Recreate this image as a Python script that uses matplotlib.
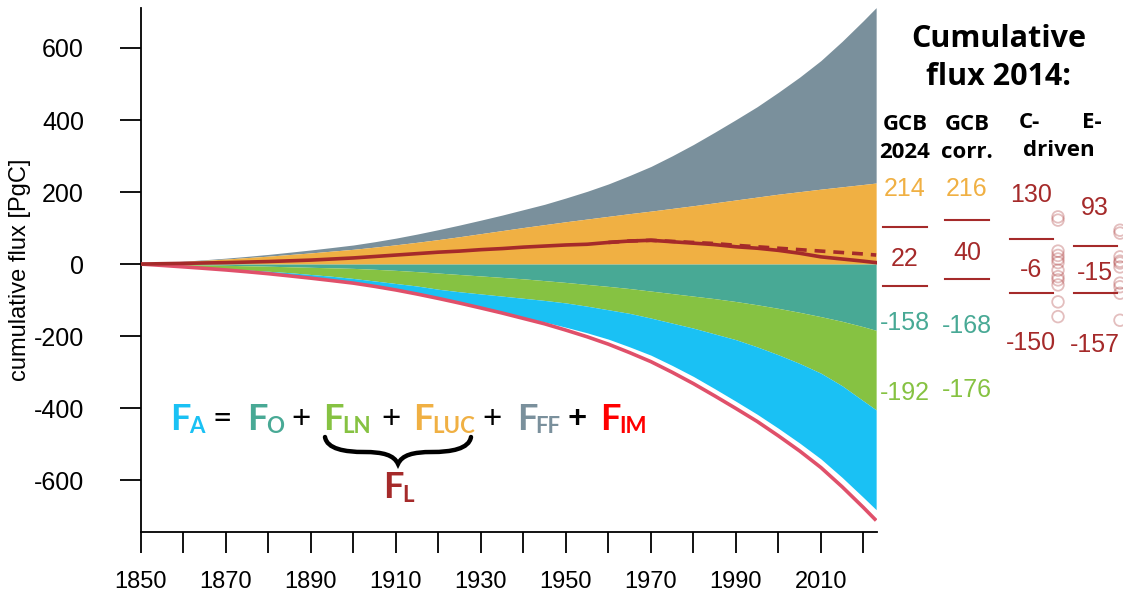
import numpy as np
import matplotlib
matplotlib.use('Agg')
import matplotlib.pyplot as plt
import matplotlib.transforms as mtransforms
from matplotlib.path import Path
from matplotlib.patches import PathPatch

plt.rcParams['axes.unicode_minus'] = False

# ── data (cumulative fluxes since 1850, PgC) ────────────────────────────────
years = [1850, 1855, 1860, 1865, 1870, 1875, 1880, 1885, 1890, 1895,
         1900, 1905, 1910, 1915, 1920, 1925, 1930, 1935, 1940, 1945,
         1950, 1955, 1960, 1965, 1970, 1975, 1980, 1985, 1990, 1995,
         2000, 2005, 2010, 2015, 2020, 2023]

cum_ff = [0, 0.3, 0.8, 1.5, 2.4, 3.4, 4.8, 6.4, 8.2, 10.0,
          12.0, 15.0, 18.5, 22.8, 27.5, 32.4, 37.5, 43.0, 49.5, 56.5,
          66, 77, 90, 106, 124, 146, 170, 196, 223, 251,
          283, 318, 357, 404, 455, 487]

cum_luc = [0, 3.5, 7, 10.5, 14, 18, 22, 26.5, 31, 36,
           41, 47, 53.5, 60.5, 68, 76, 84.5, 93, 101.5, 109.5,
           117.5, 125, 132.5, 140, 147, 154.5, 162, 170, 178, 186,
           194, 201, 208, 214.5, 221, 225]

cum_ocean = [0, -0.7, -1.5, -2.5, -3.5, -4.7, -6, -7.5, -9, -10.5,
             -12, -14.5, -17.5, -21, -25, -29, -33, -37, -41, -46,
             -51, -56.5, -62, -68, -75, -82, -89, -96, -104, -113,
             -123, -134, -146, -159, -174, -184]

cum_land = [0, -2.3, -4.5, -7, -9.5, -11.8, -14, -16.5, -20, -23.5,
            -28, -32.5, -36.5, -40, -45, -48, -50, -52, -54, -55,
            -57, -60.5, -65, -69, -75, -82, -89, -98, -106, -117,
            -129, -142, -157, -179, -206, -221]

cum_atm = [0, -0.8, -1.8, -2.5, -3.4, -4.9, -6.8, -8.9, -10.2, -12,
           -13, -15, -18, -22.3, -25.5, -31.4, -39, -47, -53, -60,
           -67.5, -74, -81.5, -93, -103, -117.5, -134, -152, -171, -187,
           -204, -221, -238, -254.5, -268, -277]

# land flux F_L = F_LN + F_LUC (GCB 2024, solid) and corrected (dashed)
fl_gcb = [0, 1, 2, 3, 4, 5.5, 7, 9, 11, 14,
          17, 21, 25, 29, 33, 36, 40, 43, 47, 50,
          53, 55, 60, 64, 66, 62, 58, 54, 48, 44,
          38, 30, 20, 14, 8, 4]
years_corr = [1960, 1965, 1970, 1975, 1980, 1985, 1990, 1995, 2000, 2005,
              2010, 2015, 2020, 2023]
fl_corr = [60, 64, 66, 63, 60, 57, 52, 48, 44, 40, 36, 32, 28, 25]

# model F_L values in 2014 (PgC)
models_cdriven = [131, 122, 36, 24, 14, 4, -17, -35, -44, -58, -105, -146]
models_edriven = [94, 86, 20, 8, 3, -8, -53, -63, -81, -156]

# table on the right
table_cols = ['GCB\n2024', 'GCB\ncorr.']
table_luc = [214, 216]
table_fl = [22, 40]
table_ocean = [-158, -168]
table_land = [-192, -176]
esm_top = [130, 93]
esm_fl = [-6, -15]
esm_bottom = [-150, -157]

# ── colours ──────────────────────────────────────────────────────────────────
C_FF = '#7A909C'
C_LUC = '#F0B043'
C_OCEAN = '#48A995'
C_LAND = '#86C242'
C_ATM = '#1AC1F4'
C_SRC = '#E0506A'
C_FL = '#A52A2A'
C_IM = '#FF0000'

W, H = 1123, 595
fig = plt.figure(figsize=(W / 100, H / 100), dpi=100)
ax = fig.add_axes([141 / W, 1 - 532 / H, (877 - 141) / W, (532 - 8) / H])

yr = np.array(years, float)
ff = np.array(cum_ff)
luc = np.array(cum_luc)
oce = np.array(cum_ocean)
lnd = np.array(cum_land)
atm = np.array(cum_atm)

ax.fill_between(yr, luc, luc + ff, color=C_FF, lw=0, zorder=1)
ax.fill_between(yr, 0, luc, color=C_LUC, lw=0, zorder=1)
ax.fill_between(yr, 0, oce, color=C_OCEAN, lw=0, zorder=1)
ax.fill_between(yr, oce, oce + lnd, color=C_LAND, lw=0, zorder=1)
ax.fill_between(yr, oce + lnd, oce + lnd + atm, color=C_ATM, lw=0, zorder=1)

ax.plot(yr, -(ff + luc), color=C_SRC, lw=2.6, zorder=3,
        solid_capstyle='butt')
ax.plot(years, fl_gcb, color=C_FL, lw=2.6, zorder=4)
ax.plot(years_corr, fl_corr, color=C_FL, lw=2.6, ls=(0, (3, 2.2)), zorder=4)

ax.set_xlim(1850, 2023.2)
ax.set_ylim(-744, 711)
for s in ('top', 'right'):
    ax.spines[s].set_visible(False)
for s in ('left', 'bottom'):
    ax.spines[s].set_linewidth(1.3)

xt = list(range(1850, 2021, 10))
ax.set_xticks(xt)
ax.set_xticklabels([str(t) if (t - 1850) % 20 == 0 else '' for t in xt])
ax.set_yticks(range(-600, 601, 200))
ax.tick_params(direction='out', length=15, width=1.3, labelsize=18,
               labelfontfamily='Liberation Sans')
ax.tick_params(axis='x', pad=13, labelsize=17)
ax.tick_params(axis='y', pad=26)
ax.set_ylabel('cumulative flux [PgC]', fontsize=17, family='Liberation Sans',
              labelpad=2)

# model circles on the main y scale, outside the axes
trans = mtransforms.blended_transform_factory(fig.transFigure, ax.transData)
ax.scatter([1058 / W] * len(models_cdriven), models_cdriven, s=70,
           facecolors='none', edgecolors=C_FL, alpha=0.3, lw=1.3,
           transform=trans, clip_on=False, zorder=5)
ax.scatter([1120 / W] * len(models_edriven), models_edriven, s=70,
           facecolors='none', edgecolors=C_FL, alpha=0.3, lw=1.3,
           transform=trans, clip_on=False, zorder=5)


def ftext(px, py, s, **kw):
    return fig.text(px / W, 1 - py / H, s, **kw)


def hline(x0, x1, py, color=C_FL, lw=1.5):
    fig.add_artist(plt.Line2D([x0 / W, x1 / W], [1 - py / H, 1 - py / H],
                              color=color, lw=lw, transform=fig.transFigure))


# ── right-hand table ─────────────────────────────────────────────────────────
bold = dict(family='Open Sans', weight='bold', color='black',
            ha='center', va='baseline')
ftext(999, 47, 'Cumulative', fontsize=22, **bold)
ftext(999, 85, 'flux 2014:', fontsize=22, **bold)

col_x = [905, 967]
for i, lab in enumerate(table_cols):
    top, bot = lab.split('\n')
    ftext(col_x[i], 130, top, fontsize=16, **bold)
    ftext(col_x[i], 158, bot, fontsize=16, **bold)
ftext(1029, 128, 'C-', fontsize=16, **bold)
ftext(1092, 128, 'E-', fontsize=16, **bold)
ftext(1059, 156, 'driven', fontsize=16, **bold)

num = dict(family='Liberation Sans', fontsize=18, ha='center', va='baseline')
luc_y, line1_y, fl_y, line2_y, oce_y, lnd_y = \
    [196, 196], [227, 220], [266, 260], [286, 279], [330, 333], [400, 397]
for i in range(2):
    x = col_x[i]
    ftext(x, luc_y[i], str(table_luc[i]), color=C_LUC, **num)
    hline(x - 22, x + 22, line1_y[i])
    ftext(x, fl_y[i], str(table_fl[i]), color=C_FL, **num)
    hline(x - 22, x + 22, line2_y[i])
    ftext(x, oce_y[i], str(table_ocean[i]), color=C_OCEAN, **num)
    ftext(x, lnd_y[i], str(table_land[i]), color=C_LAND, **num)

esm_x = [1031, 1095]
esm_top_y, esm_l1, esm_fl_y, esm_l2, esm_bot_y = \
    [202, 215], [239, 246], [277, 280], [293, 293], [350, 352]
for i in range(2):
    x = esm_x[i]
    ftext(x, esm_top_y[i], str(esm_top[i]), color=C_FL, **num)
    hline(x - 21, x + 22, esm_l1[i])
    ftext(x, esm_fl_y[i], str(esm_fl[i]), color=C_FL, **num)
    hline(x - 21, x + 22, esm_l2[i])
    ftext(x, esm_bot_y[i], str(esm_bottom[i]), color=C_FL, **num)

# ── budget equation ──────────────────────────────────────────────────────────
eq = dict(family='Lato', weight='bold', va='baseline', ha='left')
terms = [(170, 189, 'A', C_ATM), (247, 266, 'O', C_OCEAN),
         (323, 342, 'LN', C_LAND), (413, 432, 'LUC', C_LUC),
         (517, 535, 'FF', C_FF), (600, 619, 'IM', C_IM)]
for fx, sx, sub, col in terms:
    ftext(fx, 430, 'F', fontsize=26, color=col, **eq)
    ftext(sx, 433, sub, fontsize=16, color=col, **eq)
ops = [(222, '=', 'normal'), (301, '+', 'normal'), (391, '+', 'normal'),
       (492, '+', 'normal'), (577, '+', 'bold')]
for ox, op, wt in ops:
    ftext(ox, 428, op, fontsize=24, color='black', family='Lato',
          weight=wt, ha='center', va='baseline')
ftext(383, 498, 'F', fontsize=26, color=C_FL, **eq)
ftext(402, 502, 'L', fontsize=16, color=C_FL, **eq)


# curly brace under F_LN + F_LUC
def P(px, py):
    return (px / W, 1 - py / H)


verts = [P(325, 437), P(327, 449), P(345, 452), P(364, 452),
         P(383, 452), P(394, 455), P(398, 464),
         P(402, 455), P(413, 452), P(432, 452),
         P(451, 452), P(469, 449), P(471, 437)]
codes = [Path.MOVETO] + [Path.CURVE4] * 12
fig.add_artist(PathPatch(Path(verts, codes), facecolor='none',
                         edgecolor='black', lw=3.2, capstyle='round',
                         transform=fig.transFigure))

fig.savefig('out.png', dpi=100)
